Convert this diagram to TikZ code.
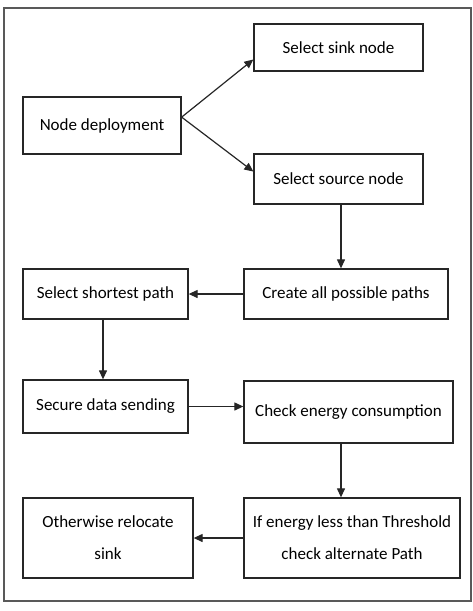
\documentclass[tikz,border=0pt]{standalone}
\usepackage{fontspec}
\setmainfont{Carlito}
\usetikzlibrary{arrows.meta}
\begin{document}
\begin{tikzpicture}[x=1pt, y=-1pt,
		box/.style={draw=black!85, line width=1.3pt, align=center, inner sep=2pt,
			font=\fontsize{17}{32}\selectfont, text=black},
		arr/.style={-{Triangle[length=9pt,width=8pt]}, line width=1.2pt, black!85}]
	\useasboundingbox (0,0) rectangle (473,611);

	% Draw outer frame
	\draw[black!65, line width=2.2pt] (4,8) rectangle (471,601);

	% Draw boxes
	\node[box, minimum width=158pt, minimum height=57pt] (deploy) at (102,125.5) {Node deployment};
	\node[box, minimum width=169pt, minimum height=47pt] (sink) at (338.5,47.5) {Select sink node};
	\node[box, minimum width=169pt, minimum height=50pt] (source) at (338.5,179) {Select source node};
	\node[box, minimum width=204pt, minimum height=50pt] (create) at (346,294) {Create all possible paths};
	\node[box, minimum width=165pt, minimum height=50pt] (shortest) at (105.5,294) {Select shortest path};
	\node[box, minimum width=165pt, minimum height=53pt] (secure) at (105.5,406.5) {Secure data sending};
	\node[box, minimum width=209pt, minimum height=62pt] (check) at (348.5,412) {Check energy consumption};
	\node[box, minimum width=216pt, minimum height=80pt] (thresh) at (352,538) {If energy less than Threshold\\check alternate Path};
	\node[box, minimum width=170pt, minimum height=80pt] (relocate) at (108,538) {Otherwise relocate\\sink};

	% Draw arrows
	\draw[arr] (deploy.6) -- (sink.188);
	\draw[arr] (deploy.6) -- (source.175);
	\draw[arr] ([xshift=2.5pt]source.south) -- ([xshift=2.5pt]source.south |- create.north);
	\draw[arr] (create.west) -- (shortest.east);
	\draw[arr] ([xshift=-2.5pt]shortest.south) -- ([xshift=-2.5pt]shortest.south |- secure.north);
	\draw[arr] (secure.east) -- (secure.east -| check.west);
	\draw[arr] ([xshift=-7.5pt]check.south) -- ([xshift=-7.5pt]check.south |- thresh.north);
	\draw[arr] (thresh.west) -- (relocate.east);
\end{tikzpicture}
\end{document}
